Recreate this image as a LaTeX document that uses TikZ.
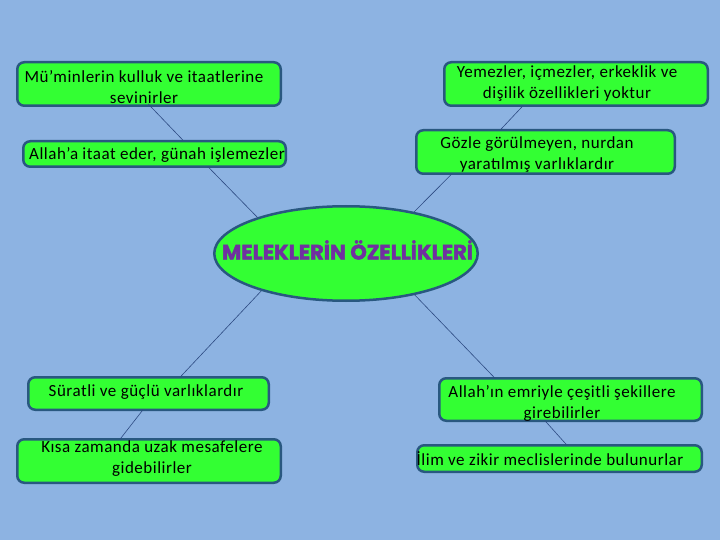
\documentclass[tikz,border=0pt]{standalone}
\usepackage{fontspec}
\usepackage{graphicx}
\setmainfont{Carlito}[LetterSpace=3]
\newfontfamily\titlefont{Poppins}[BoldFeatures={FakeBold=2}]
\usetikzlibrary{calc,shapes.geometric}
\definecolor{bg}{RGB}{141,179,226}
\definecolor{boxgreen}{RGB}{51,255,51}
\definecolor{edgec}{RGB}{41,88,128}
\definecolor{linkc}{RGB}{45,75,130}
\definecolor{titlec}{RGB}{112,48,160}
\begin{document}
\begin{tikzpicture}[x=1pt,y=-1pt,
 box/.style={draw=edgec,line width=2.5pt,fill=boxgreen,rounded corners=7pt,inner sep=0pt,outer sep=0pt,rectangle},
 txt/.style={font=\fontsize{17}{21}\selectfont,align=center,inner sep=0pt,text=black},
 link/.style={draw=linkc,line width=0.6pt}]
\useasboundingbox[fill=bg] (0,0) rectangle (720,540);
% boxes
\node[box,minimum width=263.5pt,minimum height=43.5pt] (b1) at (149,84) {};
\node[box,minimum width=262.5pt,minimum height=25.5pt] (b2) at (154.5,154) {};
\node[box,minimum width=263.5pt,minimum height=43.5pt] (b3) at (576,84) {};
\node[box,minimum width=258.5pt,minimum height=43.5pt] (b4) at (545.5,152) {};
\node[box,minimum width=240.5pt,minimum height=32.5pt] (b6) at (148.5,393.5) {};
\node[box,minimum width=263.5pt,minimum height=43.5pt] (b7) at (149,461) {};
\node[box,minimum width=262.5pt,minimum height=42.5pt] (b8) at (570.5,399.5) {};
\node[box,minimum width=284.5pt,minimum height=26.5pt] (b9) at (559.5,458.5) {};
% texts
\node[txt] (t1) at (144,87) {Mü’minlerin kulluk ve itaatlerine\\sevinirler};
\node[txt] (t2) at (157,155) {Allah’a itaat eder, günah işlemezler};
\node[txt] (t3) at (567,84) {Yemezler, içmezler, erkeklik ve\\dişilik özellikleri yoktur};
\node[txt] (t4) at (537,155) {Gözle görülmeyen, nurdan\\yaratılmış varlıklardır};
\node[txt] (t6) at (146,392) {Süratli ve güçlü varlıklardır};
\node[txt] (t7) at (152,459) {Kısa zamanda uzak mesafelere\\gidebilirler};
\node[txt] (t8) at (562,403) {Allah’ın emriyle çeşitli şekillere\\girebilirler};
\node[txt] (t9) at (550,459) {İlim ve zikir meclislerinde bulunurlar};
% centre ellipse (coordinate for links first)
\coordinate (ec) at (346,253.5);
% links
\draw[link] ($(b1.south)+(-1,-2)$) -- ($(b2.north)+(28.5,-1)$);
\draw[link] ($(b2.south)+(53.5,0)$) -- ($(ec)+(-86,-33.5)$);
\draw[link] ($(b3.south)+(-53,0)$) -- ($(b4.north)+(-45.5,0)$);
\draw[link] ($(b4.south)+(-93.5,0)$) -- ($(ec)+(64,-37.5)$);
\draw[link] ($(ec)+(-82,34.5)$) -- ($(b6.north)+(31.5,0)$);
\draw[link] ($(b6.south)+(-5.5,0)$) -- ($(b7.north)+(-29,0)$);
\draw[link] ($(ec)+(64,36.5)$) -- ($(b8.north)+(-75.5,0)$);
\draw[link] ($(b8.south)+(-25.5,0)$) -- ($(b9.north)+(7.5,0)$);
% ellipse
\node[ellipse,draw=edgec,line width=2.5pt,fill=boxgreen,inner sep=0pt,minimum width=263.5pt,minimum height=94.5pt] (ell) at (ec) {};
\node[inner sep=0pt,text=titlec] (title) at (347.5,250) {\resizebox{251pt}{\height}{\titlefont\fontsize{21}{24}\selectfont\bfseries MELEKLERİN ÖZELLİKLERİ}};
\end{tikzpicture}
\end{document}
